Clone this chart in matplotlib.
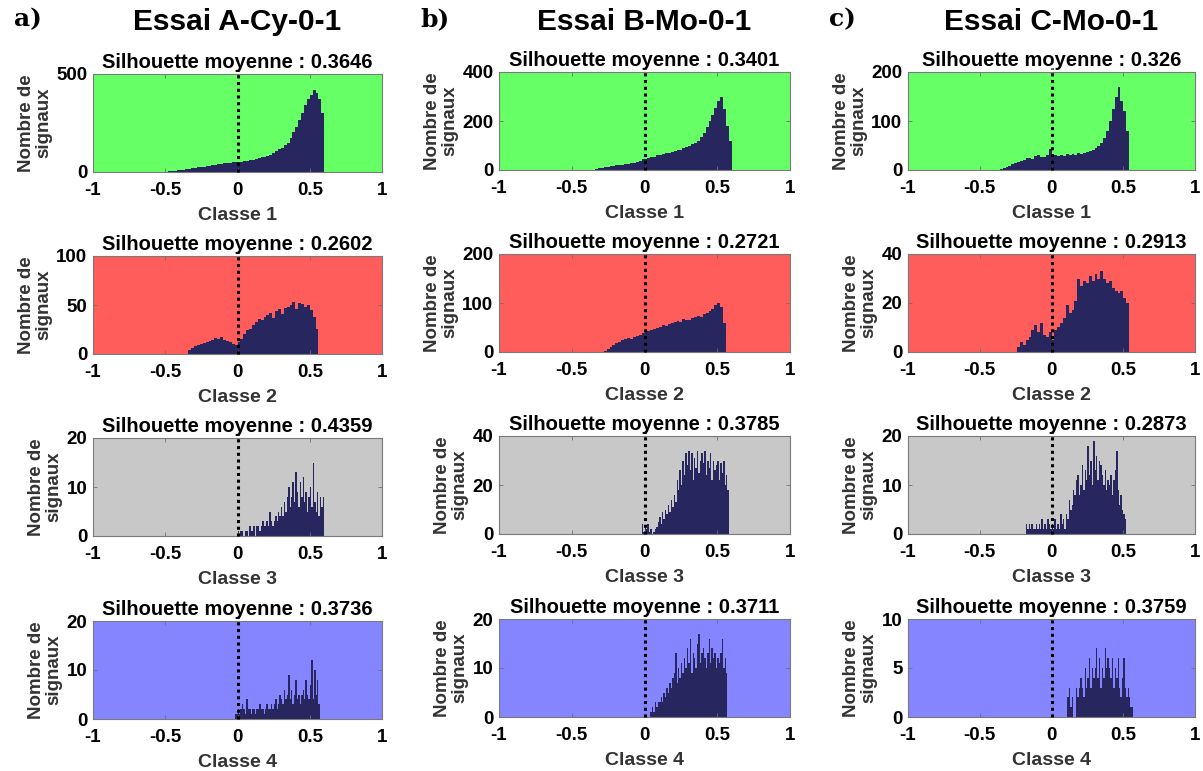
import numpy as np
import matplotlib
matplotlib.use("Agg")
import matplotlib.pyplot as plt

# ---------------- data ----------------
essais = ["Essai A-Cy-0-1", "Essai B-Mo-0-1", "Essai C-Mo-0-1"]
panel_tags = ["a)", "b)", "c)"]
classes = ["Classe 1", "Classe 2", "Classe 3", "Classe 4"]

silhouettes = [
    ["0.3646", "0.2602", "0.4359", "0.3736"],
    ["0.3401", "0.2721", "0.3785", "0.3711"],
    ["0.326", "0.2913", "0.2873", "0.3759"],
]
ymax = [
    [500, 100, 20, 20],
    [400, 200, 40, 20],
    [200, 40, 20, 10],
]
yticks = [
    [[0, 500], [0, 50, 100], [0, 10, 20], [0, 10, 20]],
    [[0, 200, 400], [0, 100, 200], [0, 20, 40], [0, 10, 20]],
    [[0, 100, 200], [0, 20, 40], [0, 10, 20], [0, 5, 10]],
]

# histogram bins: (first bin edge, bin width)
bins = [
    [(-0.50, 0.02), (-0.34, 0.02), (0.00, 0.01), (-0.02, 0.01)],
    [(-0.36, 0.02), (-0.28, 0.02), (-0.02, 0.01), (0.04, 0.01)],
    [(-0.36, 0.02), (-0.24, 0.02), (-0.18, 0.01), (0.11, 0.01)],
]

counts_A1 = [2, 3, 5, 7, 9, 10, 12, 14, 16, 19, 20, 23, 25, 28, 30,
             32, 35, 38, 40, 43, 44, 46, 48, 50, 52, 50, 53, 56, 58, 61,
             63, 66, 70, 74, 78, 82, 88, 95, 105, 118, 125, 138, 150, 175, 205,
             230, 265, 300, 340, 375, 395, 418, 405, 370, 300]
counts_A2 = [4, 6, 8, 9, 10, 11, 12, 13, 14, 16, 15, 17, 14, 13, 12,
             10, 9, 12, 15, 20, 24, 26, 30, 33, 36, 35, 38, 40, 42, 37,
             44, 46, 41, 47, 48, 50, 53, 46, 52, 51, 48, 50, 45, 38, 26]
counts_A3 = [1, 0, 1, 1, 0, 1, 1, 0, 2, 1,
             1, 2, 0, 2, 2, 1, 2, 3, 2, 2,
             3, 2, 5, 3, 2, 3, 4, 3, 5, 4,
             6, 4, 7, 5, 8, 10, 6, 8, 11, 7,
             13, 9, 6, 11, 8, 12, 7, 9, 5, 8,
             10, 6, 15, 7, 5, 9, 4, 8, 6, 8]
counts_A4 = [1, 1,
             2, 1, 2, 3, 2, 1, 4, 2, 2, 1,
             2, 2, 1, 2, 2, 3, 2, 2, 1, 2,
             3, 2, 2, 3, 2, 3, 4, 2, 3, 5,
             4, 3, 6, 4, 5, 9, 4, 6, 3, 5,
             8, 4, 5, 3, 5, 6, 4, 8, 5, 4,
             7, 12, 4, 10, 5, 8, 3]
counts_B1 = [2, 5, 8, 10, 12, 14, 16, 18, 20, 21, 22, 24, 25, 28, 30,
             34, 38, 44, 46, 50, 52, 55, 60, 62, 65, 68, 70, 72, 78, 80,
             82, 88, 92, 98, 105, 112, 120, 135, 150, 175,
             200, 225, 255, 280, 300, 250, 180, 120]
counts_B2 = [3, 7, 10, 14, 18, 20, 24, 27, 28, 26, 30, 33, 35, 38, 40,
             42, 44, 47, 48, 52, 55, 54, 58, 60, 62, 64, 62, 68, 66, 65,
             70, 72, 74, 72, 78, 80, 84, 88, 95, 100, 92, 60]
counts_B3 = [4, 1,
             3, 2, 4, 1, 2, 0, 1, 2, 3, 5,
             7, 4, 9, 6, 10, 8, 12, 9, 14, 11,
             16, 13, 22, 18, 26, 20, 30, 24, 33, 28,
             34, 26, 33, 22, 31, 27, 34, 25, 30, 33,
             29, 34, 24, 30, 27, 33, 22, 30, 26, 28,
             30, 22, 29, 25, 30, 20, 24, 18]
counts_B4 = [1, 2, 1, 3, 2, 3,
             3, 4, 3, 5, 4, 6, 5, 7, 6, 8,
             9, 13, 7, 10, 8, 11, 9, 12, 10, 14,
             11, 16, 9, 13, 12, 10, 15, 17, 11, 13,
             14, 12, 10, 13, 16, 11, 14, 12, 13, 10,
             12, 11, 13, 16, 10, 12, 9]
counts_C1 = [2, 4, 6, 9, 12, 14, 16, 19, 20, 24, 25, 23, 28, 30, 27,
             26, 30, 42, 28, 30, 29, 31, 28, 32, 30, 32, 31, 34, 33, 35,
             36, 38, 40, 44, 50, 55, 65, 80, 100, 125, 150, 170, 140, 120, 80]
counts_C2 = [2, 4, 3, 5, 6, 9, 11, 8, 12, 7, 6, 8, 5, 9, 10,
             12, 14, 19, 16, 17, 21, 30, 27, 29, 28, 31, 29, 32, 30, 33,
             30, 28, 29, 26, 25, 24, 25, 22, 20]
counts_C3 = [2, 1, 2, 1, 2, 1, 1, 2,
             1, 2, 1, 3, 1, 2, 1, 3, 2, 1,
             2, 1, 3, 1, 2, 1, 4, 2, 3, 1,
             4, 3, 7, 5, 6, 9, 8, 11, 12, 8,
             10, 14, 9, 13, 11, 18, 12, 15, 10, 19,
             13, 16, 11, 15, 14, 12, 10, 13, 9, 11,
             10, 12, 8, 11, 13, 17, 9, 6, 8, 5,
             4, 3]
counts_C4 = [2, 3, 1, 2, 0, 0, 3, 2, 3,
             4, 3, 2, 5, 3, 4, 6, 3, 5, 4,
             5, 7, 4, 6, 3, 5, 4, 7, 5, 6,
             5, 4, 6, 3, 5, 4, 6, 3, 2, 4,
             6, 3, 2, 3, 2, 1, 1]

counts = [
    [counts_A1, counts_A2, counts_A3, counts_A4],
    [counts_B1, counts_B2, counts_B3, counts_B4],
    [counts_C1, counts_C2, counts_C3, counts_C4],
]

# ---------------- style ----------------
bg_colors = ["#66ff66", "#ff5c5c", "#c8c8c8", "#8585ff"]
bar_color = "#27265f"
FONT = "Liberation Sans"

W, H = 1203, 771
fig = plt.figure(figsize=(W / 100, H / 100), dpi=100)

col_lr = [(93, 382), (499, 790), (908, 1195)]
row_tb = [(72, 170), (254, 352), (436, 534), (619, 717)]
col_dy = [2, 0, 0]


def px_rect(l, r, t, b):
    return [l / W, 1 - b / H, (r - l) / W, (b - t) / H]


for c in range(3):
    l, r = col_lr[c]
    for k in range(4):
        t, b = row_tb[k]
        t += col_dy[c]
        b += col_dy[c]
        ax = fig.add_axes(px_rect(l, r, t, b))
        ax.set_facecolor(bg_colors[k])
        start, bw = bins[c][k]
        vals = np.array(counts[c][k], dtype=float)
        edges = start + bw * np.arange(len(vals))
        ax.bar(edges, vals, width=bw, align="edge", color=bar_color,
               linewidth=0)
        ax.axvline(0, ymin=0, ymax=1.04, color="black", linestyle=(0, (1, 1.2)),
                   linewidth=2.2, clip_on=False, zorder=5)
        ax.set_xlim(-1, 1)
        ax.set_ylim(0, ymax[c][k])
        ax.set_xticks([-1, -0.5, 0, 0.5, 1])
        ax.set_xticklabels(["-1", "-0.5", "0", "0.5", "1"])
        ax.set_yticks(yticks[c][k])
        ax.tick_params(direction="in", length=3, width=0.6, colors="#707070",
                       labelcolor="black", labelsize=13.5, pad=4,
                       top=True, right=True)
        ax.tick_params(axis="x", pad=7)
        for lab in ax.get_xticklabels() + ax.get_yticklabels():
            lab.set_fontweight("bold")
            lab.set_fontfamily(FONT)
        for sp in ax.spines.values():
            sp.set_color("#7a7a7a")
            sp.set_linewidth(0.8)
        ax.set_title("Silhouette moyenne : " + silhouettes[c][k],
                     fontsize=14.5, fontweight="bold", family=FONT, pad=4)
        ax.set_xlabel(classes[k], fontsize=14, fontweight="bold",
                      family=FONT, color="#333333", labelpad=6)
        ax.set_ylabel("Nombre de\nsignaux", fontsize=13.5, fontweight="bold",
                      family=FONT, color="#333333", labelpad=3,
                      linespacing=1.05)

    # column header
    fig.text(((l + r) / 2) / W, 1 - 22 / H, essais[c], ha="center",
             va="center", fontsize=21.5, fontweight="bold", family=FONT)
    fig.text((l - 79) / W, 1 - 19 / H, panel_tags[c], ha="left",
             va="center", fontsize=18, fontweight="bold", family="DejaVu Serif")

fig.savefig("out.png", dpi=100)
